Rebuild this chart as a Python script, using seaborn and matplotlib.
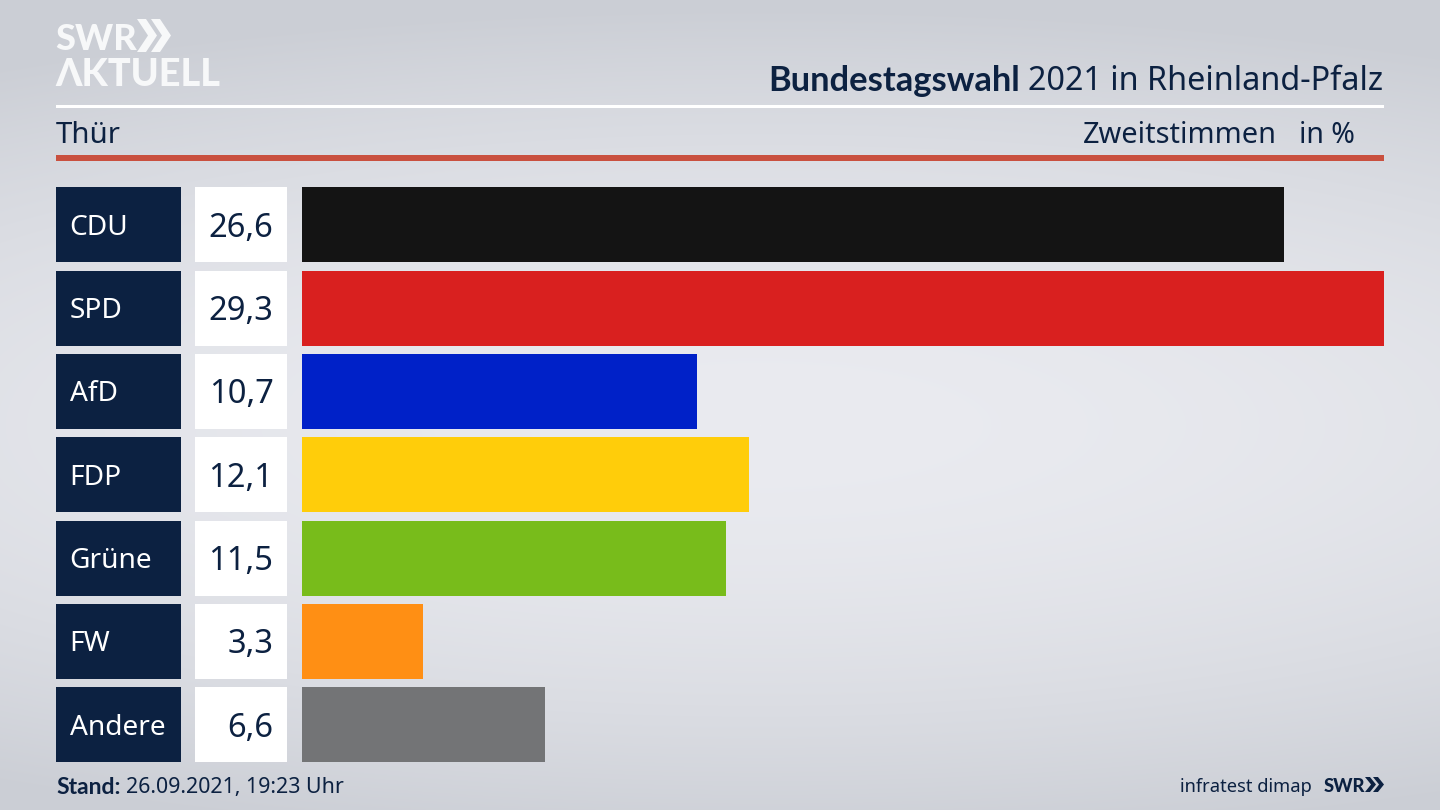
import numpy as np
import pandas as pd
import matplotlib
matplotlib.use("Agg")
import matplotlib.pyplot as plt
from matplotlib.patches import Rectangle, Polygon
from matplotlib.transforms import Affine2D
import seaborn as sns

parties = ["CDU", "SPD", "AfD", "FDP", "Grüne", "FW", "Andere"]
shares = [26.6, 29.3, 10.7, 12.1, 11.5, 3.3, 6.6]
share_labels = ["26,6", "29,3", "10,7", "12,1", "11,5", "3,3", "6,6"]
colors = ["#141414", "#d9201f", "#0021c8", "#ffcd0a", "#78bc1b", "#ff8f14", "#737476"]

NAVY = "#0c2141"
RED = "#c9503f"
FONT = "Noto Sans"
BOLD = "Lato"
W, H = 1440, 810

fig = plt.figure(figsize=(14.4, 8.1), dpi=100)
px = Affine2D().scale(1, -1).translate(0, H)  # pixel coordinates, y down


def axes_px(x0, y0, x1, y1, **kw):
    return fig.add_axes([x0 / W, 1 - y1 / H, (x1 - x0) / W, (y1 - y0) / H], **kw)


# background
bg = axes_px(0, 0, W, H)
yy, xx = np.mgrid[0:H, 0:W]
d = np.sqrt(((xx - 760) / 1500) ** 2 + ((yy - 425) / 420) ** 2)
t = np.clip(d, 0, 1) ** 1.8
c0 = np.array([0xea, 0xeb, 0xf0]) / 255
c1 = np.array([0xcb, 0xce, 0xd5]) / 255
bg.imshow(c0 + (c1 - c0) * t[..., None], aspect="auto", interpolation="bilinear")
bg.axis("off")


def rect(x0, y0, x1, y1, color):
    fig.add_artist(Rectangle((x0, y0), x1 - x0, y1 - y0, color=color, lw=0, transform=px))


def text(x, y, s, size=24, color=NAVY, ha="left", weight="normal", family=FONT, va="center_baseline"):
    fig.text(x / W, 1 - y / H, s, fontsize=size, color=color, ha=ha, va=va,
             fontweight=weight, family=family)


# bars
df = pd.DataFrame({"party": parties, "share": shares})
ax = axes_px(301.5, 187.3, 1384, 762.3)
ax.patch.set_alpha(0)
sns.barplot(data=df, x="share", y="party", hue="party", palette=colors, order=parties,
            hue_order=parties, legend=False, width=0.9, saturation=1, ax=ax, orient="h")
ax.set_xlim(0, 29.3)
ax.set_ylim(6.45, -0.45)
ax.axis("off")

# row labels
pitch = 83.33
for i, (p, lab) in enumerate(zip(parties, share_labels)):
    top = 187.3 + i * pitch
    mid = top + 37.5
    rect(56, top, 181, top + 75, NAVY)
    rect(195, top, 287, top + 75, "white")
    text(69.5, mid - 0.5, p, size=20.2, color="white")
    text(273.5, mid - 0.5, lab, size=23.5, ha="right")

# header
rect(56, 104.5, 1384, 107.5, "white")
rect(56, 155, 1384, 160.5, RED)
text(56, 132, "Thür", size=21.2)
text(1277, 132, "Zweitstimmen", size=20.8, ha="right")
text(1355, 132, "in %", size=20.5, ha="right")
text(1383.5, 78, "2021 in Rheinland-Pfalz", size=23.3, ha="right")
text(1020, 78, "Bundestagswahl", size=24.8, ha="right", weight="bold", family=BOLD)

# footer
text(56, 785, "Stand:", size=16.5, weight="bold", family=BOLD)
text(126, 785, "26.09.2021, 19:23 Uhr", size=15.4)
text(1312, 785, "infratest dimap", size=13.2, ha="right")
text(1324, 785, "SWR", size=13.2, weight="black", family=BOLD)


def chevrons(x, y, h, w, gap, color):
    for k in range(2):
        x0 = x + k * gap
        fig.add_artist(Polygon(
            [(x0, y), (x0 + w * 0.45, y), (x0 + w, y + h / 2), (x0 + w * 0.45, y + h),
             (x0, y + h), (x0 + w * 0.55, y + h / 2)],
            closed=True, color=color, lw=0, transform=px))


chevrons(1365, 777, 15, 11, 8, NAVY)

# logo
text(55, 36, "SWR", size=26, color="#f7f8f9", weight="black", family=BOLD)
chevrons(137, 19, 33, 20, 14, "#f7f8f9")
text(55, 72, "ΛKTUELL", size=27.3, color="#f7f8f9", weight="black", family=BOLD)

fig.savefig("out.png", dpi=100)
